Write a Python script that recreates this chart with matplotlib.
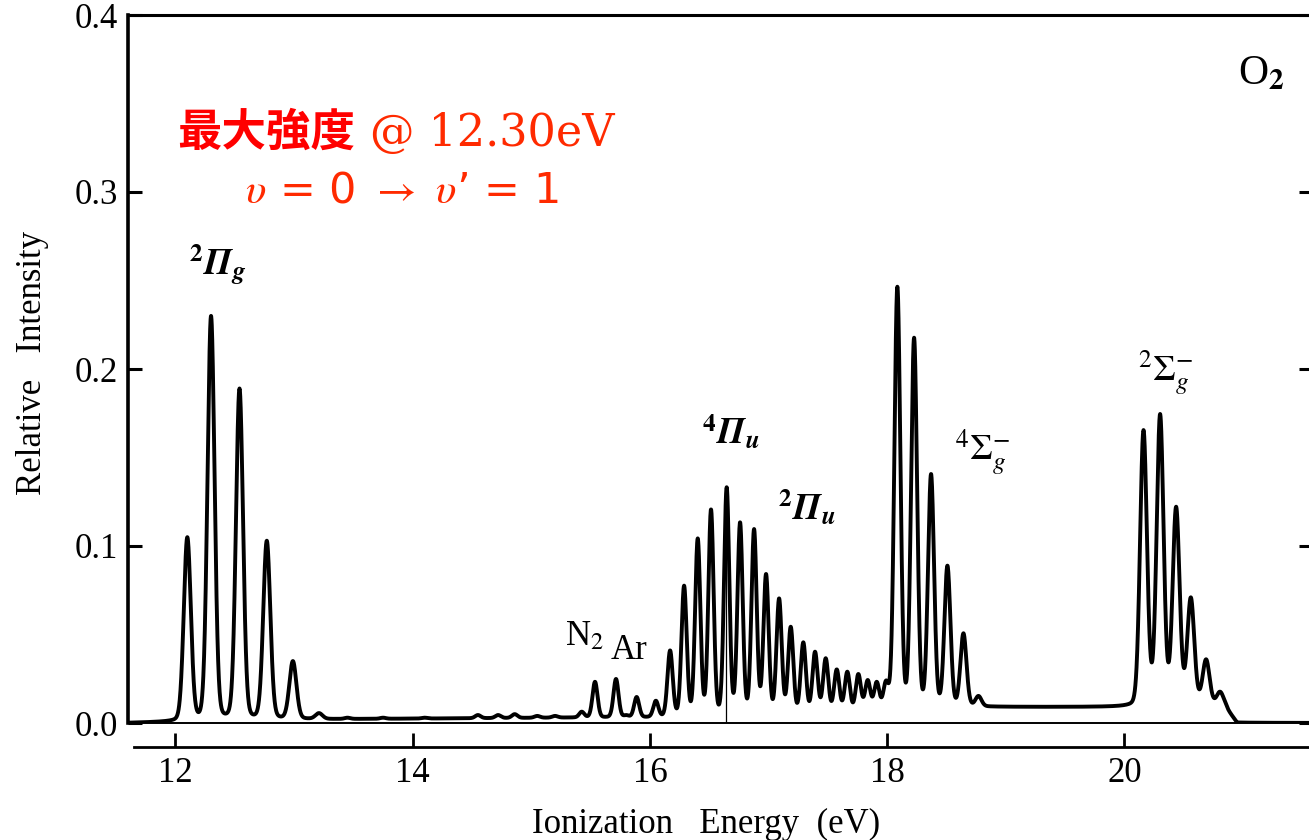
import numpy as np
import matplotlib
matplotlib.use("Agg")
import matplotlib.pyplot as plt

plt.rcParams["mathtext.fontset"] = "stix"
plt.rcParams["font.family"] = ["Liberation Serif", "DejaVu Serif"]

# ---- O2 photoelectron spectrum: vibrational peaks (energy in eV, relative intensity) ----
pig_E = [12.10, 12.30, 12.54, 12.77, 12.99, 13.21]          # X 2Pi_g
pig_I = [0.105, 0.230, 0.189, 0.103, 0.035, 0.0056]

weak_E = [13.45, 13.75, 14.10, 14.55, 14.72, 14.86, 15.05, 15.20]   # weak structure
weak_I = [0.003, 0.003, 0.003, 0.0045, 0.0045, 0.005, 0.004, 0.004]

imp_E = [15.425, 15.537, 15.714, 15.80, 15.888, 16.05]      # N2 / Ar impurity lines
imp_I = [0.0064, 0.0233, 0.0249, 0.0045, 0.0147, 0.0126]

piu_E = [16.17, 16.288, 16.403, 16.515, 16.647, 16.76, 16.878, 16.979, 17.089,
         17.187, 17.293, 17.392, 17.482, 17.575, 17.664, 17.757, 17.836, 17.912, 17.99]
piu_I = [0.041, 0.0776, 0.1043, 0.1207, 0.1332, 0.1134, 0.1096, 0.0842, 0.0704,
         0.0544, 0.0456, 0.0403, 0.0366, 0.0303, 0.029, 0.0277, 0.0243, 0.0233, 0.024]

sig4_E = [18.086, 18.227, 18.370, 18.508, 18.643, 18.77]    # b 4Sigma_g-
sig4_I = [0.2465, 0.2177, 0.1407, 0.0889, 0.0507, 0.0153]

sig2_E = [20.161, 20.301, 20.436, 20.56, 20.689, 20.807]    # B 2Sigma_g-
sig2_I = [0.1655, 0.1746, 0.1222, 0.071, 0.036, 0.0177]

# underlying continuum level
bg_E = [11.60, 12.00, 12.10, 13.00, 15.30, 15.90, 16.20, 16.50, 17.20, 17.90,
        18.10, 18.70, 19.50, 20.10, 20.16, 20.50, 20.85, 20.95, 21.60]
bg_I = [0.0, 0.0005, 0.0005, 0.002, 0.003, 0.003, 0.003, 0.003, 0.004, 0.006,
        0.005, 0.009, 0.009, 0.009, 0.012, 0.012, 0.009, 0.0, 0.0]

# thin spike in the trace near the 4Pi_u maximum
spike_E, spike_top = 16.645, 0.105

yticks = [0.0, 0.1, 0.2, 0.3, 0.4]
xticks = [12, 14, 16, 18, 20]

# ---- build trace from pseudo-Voigt line shapes ----
ETA = 0.12
bands = [(pig_E, pig_I, 0.07), (weak_E, weak_I, 0.055), (imp_E, imp_I, 0.05),
         (piu_E, piu_I, 0.052), (sig4_E, sig4_I, 0.06), (sig2_E, sig2_I, 0.068)]
centers = np.concatenate([np.asarray(b[0], float) for b in bands])
heights = np.concatenate([np.asarray(b[1], float) for b in bands])
widths = np.concatenate([np.full(len(b[0]), b[2]) for b in bands])


def line_shape(x, c, w):
    u = (x - c) / w
    return (1 - ETA) * np.exp(-4 * np.log(2) * u ** 2) + ETA / (1 + 4 * u ** 2)


A = line_shape(centers[:, None], centers[None, :], widths[None, :])
amps = np.linalg.solve(A, heights - np.interp(centers, bg_E, bg_I))

energy = np.linspace(11.60, 21.60, 8000)
trace = np.interp(energy, bg_E, bg_I) + line_shape(energy[:, None], centers[None, :],
                                                   widths[None, :]) @ amps
trace = np.clip(trace, 0, None)

# ---- figure ----
W, H = 1309, 840
fig = plt.figure(figsize=(W / 100, H / 100), dpi=100)
x0, x1 = 11.60, 21.59
ax = fig.add_axes([128 / W, (H - 723) / H, (1313 - 128) / W, 708 / H])
ax.set_xlim(x0, x1)
ax.set_ylim(0, 0.4)

ax.plot(energy, trace, color="black", lw=2.8, solid_joinstyle="round")
ax.vlines(spike_E, 0, spike_top, color="black", lw=0.9)

ax.spines["right"].set_visible(False)
ax.spines["left"].set_linewidth(2.6)
ax.spines["top"].set_linewidth(2.2)
ax.spines["bottom"].set_linewidth(1.4)

ax.set_yticks(yticks)
ax.set_yticklabels([f"{v:.1f}" for v in yticks])
ax.tick_params(axis="y", direction="in", length=10, width=2.2, left=True, right=True,
               labelsize=25, pad=7)
ax.tick_params(axis="x", bottom=False, labelbottom=False)

# separate energy scale below the trace
axb = fig.add_axes([134 / W, (H - 747) / H, (1313 - 134) / W, 1e-5])
axb.set_xlim(x0 + (134 - 128) / 118.6, x1)
axb.patch.set_visible(False)
for s in ("left", "right", "top"):
    axb.spines[s].set_visible(False)
axb.spines["bottom"].set_linewidth(2.0)
axb.set_yticks([])
axb.set_xticks(xticks)
axb.set_xticklabels([str(v) for v in xticks])
axb.tick_params(axis="x", direction="in", length=10, width=2.0, labelsize=25, pad=7)

fig.text(706 / W, 7 / H, "Ionization   Energy  (eV)", ha="center", va="baseline",
         fontsize=25)
fig.text(33 / W, 1 - 363 / H, "Relative   Intensity", ha="center", va="center",
         rotation=90, fontsize=25)

# band labels
lab = dict(ha="center", va="center", fontsize=26, color="black")
ax.text(12.36, 0.259, r"$^{\mathbf{2}}\mathbfit{\Pi}_{\mathbfit{g}}$", **lab)
ax.text(16.68, 0.164, r"$^{\mathbf{4}}\mathbfit{\Pi}_{\mathbfit{u}}$", **lab)
ax.text(17.32, 0.121, r"$^{\mathbf{2}}\mathbfit{\Pi}_{\mathbfit{u}}$", **lab)
ax.text(18.81, 0.153, r"$^{4}\Sigma_{g}^{-}$", **lab)
ax.text(20.35, 0.198, r"$^{2}\Sigma_{g}^{-}$", **lab)
ax.text(15.445, 0.0486, r"N$_{2}$", ha="center", va="center", fontsize=25)
ax.text(15.82, 0.0407, "Ar", ha="center", va="center", fontsize=25)
ax.text(21.157, 0.3667, r"O$_{\mathbf{2}}$", ha="center", va="center", fontsize=30)

# highlight of the strongest line
ax.text(13.513, 0.3333, "最大強度", ha="right", va="center", fontsize=32,
        color="#ff0000", family=["Noto Sans CJK JP"], fontweight="bold")
ax.text(13.64, 0.3333, "@ 12.30eV", ha="left", va="center", fontsize=32,
        color="#ff2a00", family=["DejaVu Serif"])
ax.text(13.91, 0.301, r"$\mathit{\upsilon}$ = 0 $\rightarrow$ $\mathit{\upsilon}$’ = 1",
        ha="center", va="center", fontsize=31, color="#ff2a00",
        family=["DejaVu Sans"])

fig.savefig("out.png", dpi=100)
